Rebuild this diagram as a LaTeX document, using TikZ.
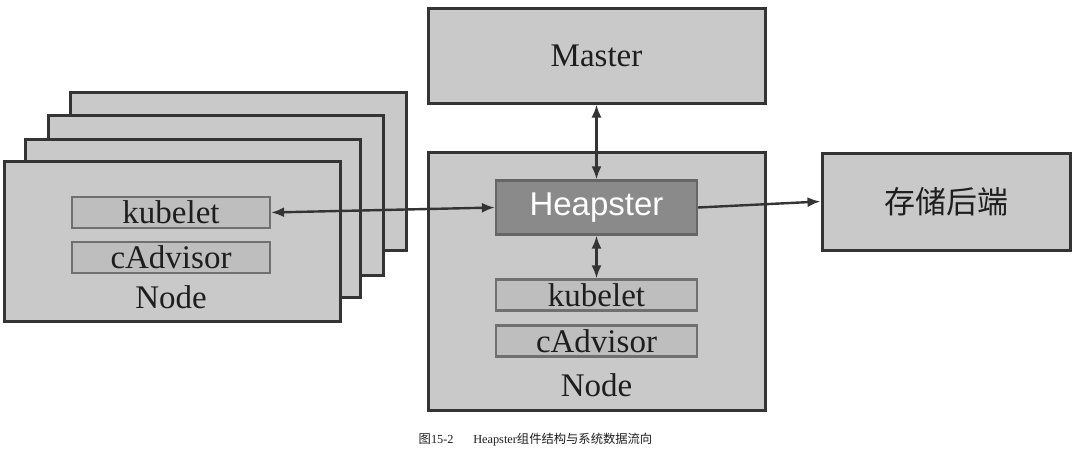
\documentclass[tikz,border=0pt]{standalone}
\usepackage{fontspec}
\setmainfont{Liberation Serif}
\newfontfamily\cjk{Noto Sans CJK SC}
\newfontfamily\hsans{Liberation Sans}
\usetikzlibrary{arrows.meta}
\definecolor{boxfill}{HTML}{C9C9C9}
\definecolor{boxline}{HTML}{343434}
\definecolor{innerfill}{HTML}{BEBEBE}
\definecolor{innerline}{HTML}{707070}
\definecolor{heapfill}{HTML}{8A8A8A}
\definecolor{heapline}{HTML}{666666}
\definecolor{txt}{HTML}{1E1E1E}
\begin{document}
\begin{tikzpicture}[x=1pt,y=-1pt,
  outerbox/.style={draw=boxline,fill=boxfill,line width=3pt,inner sep=0pt,
    minimum width=#1},
  innerbox/.style={draw=innerline,fill=innerfill,line width=2.2pt,inner sep=0pt,
    minimum width=198pt,minimum height=31pt,font=\fontsize{33}{33}\selectfont,text=txt},
  heapbox/.style={draw=heapline,fill=heapfill,line width=2.2pt,inner sep=0pt,
    minimum width=201pt,minimum height=54pt,font=\hsans\fontsize{33}{33}\selectfont,text=white},
  lbl/.style={font=\fontsize{33}{33}\selectfont,text=txt,inner sep=0pt},
  arr/.style={line width=2.4pt,draw=boxline,-{Latex[length=13pt,width=10pt]}},
  barr/.style={line width=2.4pt,draw=boxline,{Latex[length=13pt,width=10pt]}-{Latex[length=13pt,width=10pt]}}
]
\useasboundingbox[fill=white] (0,0) rectangle (1073,458);

% stacked nodes on the left (back to front)
\node[outerbox=336pt,minimum height=158pt] (nodeD) at (238,171) {};
\node[outerbox=335pt,minimum height=160pt] (nodeC) at (215.5,195) {};
\node[outerbox=335pt,minimum height=158pt] (nodeB) at (192.5,218) {};
\node[outerbox=336pt,minimum height=160pt] (nodeA) at (172,241) {};
\node[innerbox] (lkube) at (171,212.5) {kubelet};
\node[innerbox] (lcadv) at (171,257.5) {cAdvisor};
\node[lbl] (lnode) at (171,297) {Node};

% master
\node[outerbox=337pt,minimum height=95pt,lbl] (master) at (596.5,55.5) {Master};

% central node
\node[outerbox=337pt,minimum height=258pt] (cnode) at (596.5,281) {};
\node[heapbox] (heap) at (596.5,207.5) {Heapster};
\node[innerbox,minimum width=201pt] (ckube) at (596.5,295) {kubelet};
\node[innerbox,minimum width=201pt] (ccadv) at (596.5,341) {cAdvisor};
\node[lbl] (cnodelbl) at (596.5,385) {Node};

% storage
\node[outerbox=248pt,minimum height=97pt,font=\cjk\fontsize{31}{31}\selectfont,text=txt] (store) at (946,201.5) {存储后端};

% connectors
\draw[barr] (lkube.east) -- (heap.west);
\draw[barr] (master.south) -- (heap.north);
\draw[barr] (heap.south) -- (ckube.north);
\draw[arr] (heap.east) -- (store.west);

% caption
\node[inner sep=0pt,font=\fontsize{12.3}{12.3}\selectfont,text=txt] (caption) at (535.5,440)
  {{\cjk 图}15-2\hspace{1.6em}Heapster{\cjk 组件结构与系统数据流向}};
\end{tikzpicture}
\end{document}
